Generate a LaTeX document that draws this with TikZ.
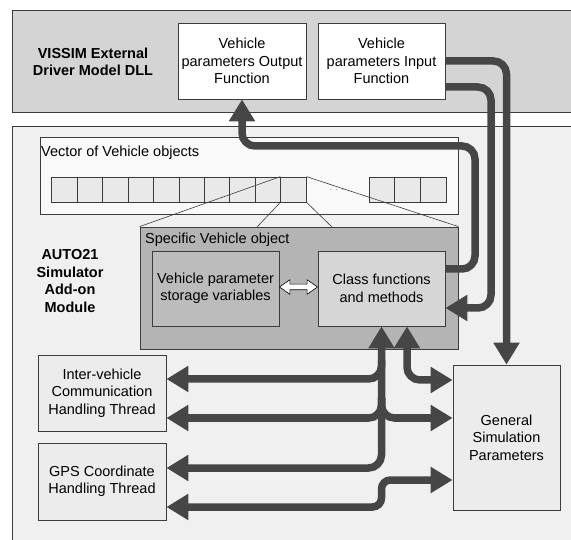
\documentclass[tikz,border=0pt]{standalone}
\usepackage{fontspec}
\setmainfont{Liberation Sans}
\usepackage{tikz}
\usetikzlibrary{arrows.meta,shapes.arrows}
\definecolor{bandgray}{RGB}{212,212,212}
\definecolor{lowgray}{RGB}{240,240,240}
\definecolor{cellgray}{RGB}{233,233,233}
\definecolor{specgray}{RGB}{180,180,180}
\definecolor{storgray}{RGB}{188,188,188}
\definecolor{clsgray}{RGB}{214,214,214}
\definecolor{boxgray}{RGB}{236,236,236}
\definecolor{linegray}{RGB}{60,60,60}
\definecolor{arrowgray}{RGB}{70,70,70}
\tikzset {>={Triangle[length=22pt,width=25pt]}}
\tikzset{
  txt/.style={font=\fontsize{14.5}{17.5}\selectfont, align=center, inner sep=1pt},
  bold/.style={txt, font=\fontsize{14.5}{17.5}\selectfont\bfseries},
  box/.style={txt, draw=linegray, line width=0.8pt},
  cell/.style={draw=linegray, line width=0.7pt, fill=cellgray,
    minimum width=25.45pt, minimum height=25pt, inner sep=0pt},
  flow/.style={draw=arrowgray, line width=7.5pt, rounded corners=13pt},
}

\begin{document}
\begin{tikzpicture}[x=1pt,y=-1pt]
\useasboundingbox (0,0) rectangle (571,540);
% the two bands
\draw[linegray, fill=bandgray, line width=0.8pt] (12,10) rectangle (590,112);
\draw[linegray, fill=lowgray, line width=0.8pt] (12,126) rectangle (590,560);

\node[bold] (dll) at (93,62) {VISSIM External\\Driver Model DLL};
\node[box, fill=white, minimum width=128pt, minimum height=76pt] (outf) at (242,61) {Vehicle\\parameters Output\\Function};
\node[box, fill=white, minimum width=127pt, minimum height=76pt] (inf) at (381.5,61) {Vehicle\\parameters Input\\Function};

% vector of objects
\node[draw=linegray, line width=0.8pt, fill=white!60!lowgray, minimum width=418pt, minimum height=77pt] (vec) at (249,175.5) {};
\node[txt, anchor=base west] (veclbl) at (40,157) {Vector of Vehicle objects};
\foreach \i in {0,...,9}
  \node[cell] (c\i) at (64.4+25.45*\i,189.5) {};
\foreach \i in {0,1,2}
  \node[cell, minimum width=25.7pt] (r\i) at (381.8+25.7*\i,189.5) {};
\node[font=\small, text=gray] (dots) at (337,190) {. . .};

\node[draw=linegray, line width=0.8pt, fill=specgray, minimum width=318pt, minimum height=122pt] (spec) at (299,288) {};
\coordinate (sl) at (257,227);
\coordinate (sr) at (332,227);
\draw[linegray, line width=0.6pt] (c9.north west) -- (spec.north west);
\draw[linegray, line width=0.6pt] (c9.north east) -- (spec.north east);
\draw[linegray, line width=0.6pt] (c9.south west) -- (sl);
\draw[linegray, line width=0.6pt] (c9.south east) -- (sr);
\node[txt, anchor=base west] (speclbl) at (144,244) {Specific Vehicle object};

\node[box, fill=storgray, minimum width=127pt, minimum height=75pt] (stor) at (215.5,288.5) {Vehicle parameter\\storage variables};
\node[box, fill=clsgray, minimum width=127pt, minimum height=75pt] (cls) at (381.5,288.5) {Class functions\\and methods};
\node[double arrow, draw=black, line width=0.6pt, fill=white, inner sep=2.5pt,
  double arrow head extend=4.5pt, double arrow tip angle=70, minimum height=38pt] (link) at (298.5,287) {};

\node[bold] (auto) at (70,281) {AUTO21\\Simulator\\Add-on\\Module};

\node[box, fill=boxgray, minimum width=128pt, minimum height=76pt] (ivc) at (102,393) {Inter-vehicle\\Communication\\Handling Thread};
\node[box, fill=boxgray, minimum width=128pt, minimum height=77pt] (gps) at (102,481.5) {GPS Coordinate\\Handling Thread};
\node[box, fill=boxgray, minimum width=107pt, minimum height=145pt] (gsp) at (506.5,437.5) {General\\Simulation\\Parameters};

% data flows
\draw[flow, ->] ([yshift=19.5pt]cls.east) -- (475,269) -- (475,146) -- (242,146) -- (outf.south);
\draw[flow, ->] ([yshift=-26pt]inf.east) -- (491,87) -- (491,308) -- ([yshift=-19.5pt]cls.east);
\draw[flow, ->] (inf.east) -- (506.5,61) -- (gsp.north);

\draw[flow, <->] ([yshift=13.5pt]gps.east) -- (381.5,468) -- (cls.south);
\draw[flow, <-] ([yshift=14pt]ivc.east) -- (381.5,379) -- (381.5,360);
\draw[flow, <-] ([yshift=-25pt]ivc.east) -- (381.5,418) -- (381.5,398);
\draw[flow, ->] (381.5,398) -- (381.5,418) -- ([yshift=19.5pt]gsp.west);
\draw[flow, <->] ([xshift=25.5pt]cls.south) -- (407,380) -- ([yshift=57.5pt]gsp.west);
\draw[flow, <->, rounded corners=9pt] ([yshift=-25.5pt]gps.east) -- (381.5,507) -- (381.5,480) -- ([yshift=-42.5pt]gsp.west);
\end{tikzpicture}
\end{document}
